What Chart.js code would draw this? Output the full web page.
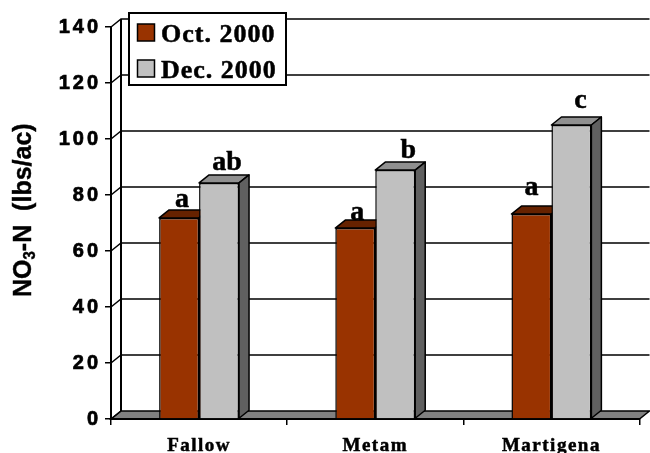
<!DOCTYPE html>
<html>
<head>
<meta charset="utf-8">
<title>NO3-N</title>
<script src="https://cdn.jsdelivr.net/npm/chart.js@4"></script>
<style>
html, body { margin: 0; padding: 0; background: #fff; }
canvas { display: block; }
</style>
</head>
<body>
<canvas id="chart" width="650" height="453"></canvas>
<script>
const categories = ["Fallow", "Metam", "Martigena"];
const octValues = [71.8, 68.2, 73.2];
const decValues = [84.3, 88.9, 105];
const octLetters = ["a", "a", "a"];
const decLetters = ["ab", "b", "c"];
const seriesNames = ["Oct. 2000", "Dec. 2000"];
const yTicks = [0, 20, 40, 60, 80, 100, 120, 140];

const serif = "'Liberation Serif', serif";
const sans = "'Liberation Sans', sans-serif";

// fake 3D depth of the plot
const DX = 10;
const DY = 8;

const octStyle = { front: "#993300", top: "#662200", side: "#4d1a00" };
const decStyle = { front: "#C0C0C0", top: "#909090", side: "#606060" };

// nudges of the letters away from the bar centre / top, one per category
const octNudge = [[3, 11], [2, 8], [0, 19]];
const decNudge = [[8, 13], [13, 12], [9, 17]];

function poly(ctx, pts, fill)
{
	ctx.beginPath();
	ctx.moveTo(pts[0][0], pts[0][1]);
	for(let p of pts.slice(1))
		ctx.lineTo(p[0], p[1]);
	ctx.closePath();
	ctx.fillStyle = fill;
	ctx.fill();
	ctx.stroke();
}

function spaced(scale, spacing)
{
	if(scale._spaced) return;
	scale._spaced = true;
	const orig = scale.drawLabels;
	scale.drawLabels = function(area)
	{
		this.ctx.letterSpacing = spacing;
		orig.call(this, area);
		this.ctx.letterSpacing = "0px";
	};
}

// fill plus a thin outline, the reference type is heavier than plain bold
function heavyText(ctx, text, x, y, weight)
{
	ctx.strokeStyle = "#000";
	ctx.lineWidth = weight;
	ctx.fillStyle = "#000";
	ctx.strokeText(text, x, y);
	ctx.fillText(text, x, y);
}

function drawLegend(ctx)
{
	ctx.save();
	ctx.fillStyle = "#fff";
	ctx.strokeStyle = "#000";
	ctx.lineWidth = 2;
	ctx.fillRect(129, 13, 157, 72);
	ctx.strokeRect(129, 13, 157, 72);
	ctx.font = "bold 26px " + serif;
	ctx.letterSpacing = "1px";
	ctx.textBaseline = "alphabetic";
	[octStyle, decStyle].forEach((s, i) =>
	{
		const y = 24 + i * 36;
		ctx.lineWidth = 1.5;
		ctx.strokeStyle = "#000";
		ctx.fillStyle = s.front;
		ctx.fillRect(137.5, y, 17, 17);
		ctx.strokeRect(137.5, y, 17, 17);
		heavyText(ctx, seriesNames[i], 161, y + 18, 0.5);
	});
	ctx.restore();
}

function drawYTitle(ctx)
{
	ctx.save();
	ctx.translate(31, 297);
	ctx.rotate(-Math.PI / 2);
	ctx.scale(1, 1.04);
	ctx.font = "bold 25px " + sans;
	let x = 0;
	heavyText(ctx, "NO", x, 0, 0.4);
	x += ctx.measureText("NO").width;
	ctx.font = "bold 15px " + sans;
	heavyText(ctx, "3", x, 4, 0.4);
	x += ctx.measureText("3").width;
	ctx.font = "bold 25px " + sans;
	heavyText(ctx, "-N  (lbs/ac)", x, 0, 0.4);
	ctx.restore();
}

const plot3d =
{
	id: "plot3d",
	beforeDraw(chart)
	{
		const { ctx, chartArea: a, scales } = chart;
		spaced(scales.y, "3px");
		spaced(scales.x, "1.5px");
		ctx.save();
		ctx.fillStyle = "#fff";
		ctx.fillRect(0, 0, chart.width, chart.height);
		ctx.strokeStyle = "#000";
		ctx.lineWidth = 1.5;

		// floor
		poly(ctx, [[a.left, a.bottom], [a.left + DX, a.bottom - DY], [a.right + DX, a.bottom - DY], [a.right, a.bottom]], "#808080");

		// back wall lines and the little connectors to the front axis
		for(let t of yTicks)
		{
			const y = scales.y.getPixelForValue(t);
			ctx.beginPath();
			ctx.moveTo(a.left, y);
			ctx.lineTo(a.left + DX, y - DY);
			if(t > 0) ctx.lineTo(a.right + DX, y - DY);
			ctx.stroke();
		}
		ctx.lineWidth = 2;
		ctx.beginPath();
		ctx.moveTo(a.left + DX, a.top - DY);
		ctx.lineTo(a.left + DX, a.bottom - DY);
		ctx.stroke();
		ctx.restore();

		drawLegend(ctx);
		drawYTitle(ctx);
	},
	beforeDatasetsDraw(chart)
	{
		const { ctx } = chart;
		ctx.save();
		ctx.strokeStyle = "#000";
		ctx.lineWidth = 1.5;
		ctx.lineJoin = "round";
		[octStyle, decStyle].forEach((s, i) =>
		{
			for(let bar of chart.getDatasetMeta(i).data)
			{
				const p = bar.getProps(["x", "y", "base", "width"], true);
				const l = p.x - p.width / 2, r = p.x + p.width / 2;
				poly(ctx, [[l, p.y], [l + DX, p.y - DY], [r + DX, p.y - DY], [r, p.y]], s.top);
				poly(ctx, [[r, p.y], [r + DX, p.y - DY], [r + DX, p.base - DY], [r, p.base]], s.side);
			}
		});
		ctx.restore();
	},
	afterDatasetsDraw(chart)
	{
		const { ctx } = chart;
		ctx.save();
		ctx.font = "bold 28px " + serif;
		ctx.textAlign = "center";
		ctx.textBaseline = "alphabetic";
		[[octLetters, octNudge], [decLetters, decNudge]].forEach((set, i) =>
		{
			chart.getDatasetMeta(i).data.forEach((bar, k) =>
			{
				const p = bar.getProps(["x", "y"], true);
				heavyText(ctx, set[0][k], p.x + set[1][k][0], p.y - set[1][k][1], 0.5);
			});
		});
		ctx.restore();
	}
};

new Chart(document.getElementById("chart").getContext("2d"),
{
	type: "bar",
	plugins: [plot3d],
	data:
	{
		labels: categories,
		datasets:
		[
			{ label: seriesNames[0], data: octValues, backgroundColor: octStyle.front, borderColor: "#000", borderWidth: 1.5 },
			{ label: seriesNames[1], data: decValues, backgroundColor: decStyle.front, borderColor: "#000", borderWidth: 1.5 }
		]
	},
	options:
	{
		responsive: false,
		animation: false,
		devicePixelRatio: 1,
		layout: { padding: { left: 0, top: 27, right: 10.5, bottom: 0 } },
		datasets: { bar: { categoryPercentage: 0.4537, barPercentage: 1 } },
		plugins: { legend: { display: false }, tooltip: { enabled: false } },
		scales:
		{
			x:
			{
				afterFit: (s) => { s.height = 34; },
				border: { color: "#000", width: 2 },
				grid: { drawOnChartArea: false, color: "#000", lineWidth: 1.5, tickLength: 6 },
				ticks: { color: "#000", padding: 10, maxRotation: 0, textStrokeColor: "#000", textStrokeWidth: 0.5, font: { family: serif, size: 19, weight: "bold" } }
			},
			y:
			{
				min: 0,
				max: 140,
				afterFit: (s) => { s.width = 111; },
				afterBuildTicks: (s) => { s.ticks = yTicks.map((v) => ({ value: v })); },
				border: { color: "#000", width: 2 },
				grid: { drawOnChartArea: false, color: "#000", lineWidth: 1.5, tickLength: 6 },
				ticks: { color: "#000", padding: 4, textStrokeColor: "#000", textStrokeWidth: 0.7, font: { family: sans, size: 20, weight: "bold" } }
			}
		}
	}
});
</script>
</body>
</html>
